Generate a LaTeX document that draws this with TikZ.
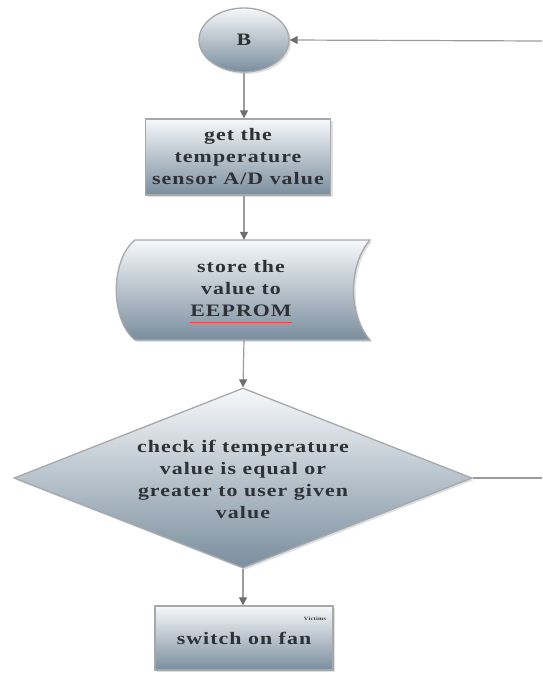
\documentclass[tikz,border=0pt]{standalone}
\usepackage{fontspec}
\setmainfont{Liberation Serif}[FakeStretch=1.25,LetterSpace=6]
\usetikzlibrary{shapes.geometric,shadows,arrows.meta}
\definecolor{shadetop}{HTML}{F6F8FA}
\definecolor{shadebot}{HTML}{7A8E9E}
\definecolor{edgegray}{HTML}{A8A8A8}
\definecolor{linegray}{HTML}{9C9C9C}
\definecolor{tipgray}{HTML}{6E6E6E}
\definecolor{txtgray}{HTML}{2E3236}
\tikzset{
  fillshape/.style={top color=shadetop, bottom color=shadebot, draw=edgegray, line width=1.3pt,
    drop shadow={opacity=0.25, shadow xshift=2pt, shadow yshift=-2pt}},
  procbox/.style={fillshape, rectangle, inner sep=0pt},
  startell/.style={fillshape, ellipse, inner sep=0pt},
  decision/.style={fillshape, diamond, inner sep=0pt},
  lbl/.style={align=center, font=\fontsize{17.5}{22}\selectfont\bfseries, text=txtgray},
  conn/.style={draw=linegray, line width=1.2pt},
  arr/.style={conn, -{Triangle[length=8pt,width=8pt,color=tipgray]}},
}
\begin{document}
\begin{tikzpicture}[x=1pt,y=-1pt]
\useasboundingbox (0,0) rectangle (542,675);
% B
\node[startell, minimum width=90pt, minimum height=64pt] (b) at (244,40) {};
\node[lbl] at (b) {B};
\coordinate (rin) at (542,41);
% get value box
\node[procbox, minimum width=185pt, minimum height=76pt] (get) at (238,157) {};
\node[lbl] at (get) {get the\\temperature\\sensor A/D value};
% store (stored data shape)
\node[minimum width=255pt, minimum height=100pt, inner sep=0pt] (st) at (242,290) {};
\path[fillshape] (135,240) -- (370,240) .. controls (348,265) and (348,315) .. (370,340)
  -- (135,340) .. controls (110,320) and (110,260) .. (135,240) -- cycle;
\node[lbl] (sttxt) at (241,289) {store the\\value to\\EEPROM};
\draw[red!75, line width=0.8pt] (190,322) -- (292,322);
% decision
\node[decision, minimum width=458pt, minimum height=180pt] (dec) at (243,478) {};
\node[lbl] at (243,479) {check if temperature\\value is equal or\\greater to user given\\value};
\coordinate (rout) at (542,478);
% switch on fan
\node[procbox, minimum width=178pt, minimum height=64pt] (fan) at (244,638) {};
\node[lbl] at (fan) {switch on fan};
\node[font=\fontsize{5}{6}\selectfont\bfseries, text=txtgray, inner sep=0pt] (vic) at (315,619) {Victims};
% connectors
\draw[arr] (rin) -- (b.east);
\draw[arr] (b.south) -- (get.north -| b.south);
\draw[arr] (get.south -| b.south) -- (st.north -| b.south);
\draw[arr] (st.south -| b.south) -- (dec.north);
\draw[arr] (dec.south) -- (fan.north -| dec.south);
\draw[conn] (dec.east) -- (rout);
\end{tikzpicture}
\end{document}
